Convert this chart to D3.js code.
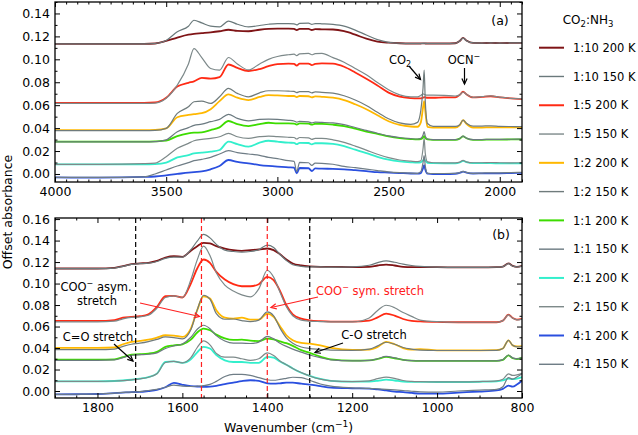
<!DOCTYPE html>
<html><head><meta charset="utf-8">
<script src="https://cdn.jsdelivr.net/npm/d3@7"></script>
<style>
body{margin:0;background:#fff}
svg{display:block}
text{font-family:"DejaVu Sans",sans-serif;fill:#000}
</style>
</head><body>
<svg id="c" width="638" height="435"></svg>
<script>
// ---------------- DATA ----------------
const seriesNames = ["1:10 200 K","1:10 150 K","1:5 200 K","1:5 150 K","1:2 200 K","1:2 150 K",
  "1:1 200 K","1:1 150 K","2:1 200 K","2:1 150 K","4:1 200 K","4:1 150 K"];
const seriesColors = ["#7f1416","#6a797b","#ff2a14","#7d898a","#ffb800","#6f7b7c",
  "#3ddc00","#6b7a80","#33efcc","#7e8a8a","#2a4fdf","#6f7d86"];

// top panel (a)
const topWavenumbers = [4000,3800,3600,3550,3500,3450,3400,3375,3340,3300,3260,3220,3180,3130,3080,3040,3000,2950,2925,2913,
  2900,2860,2845,2830,2800,2750,2700,2650,2600,2550,2500,2450,2400,2370,2355,2345,2340,2335,2325,2300,
  2250,2200,2180,2165,2150,2120,2080,2040,2000,1950,1900];
const topXTicks = [4000,3500,3000,2500,2000];
const topYTicks = [0,0.02,0.04,0.06,0.08,0.10,0.12,0.14];

const topA_1_10_200 = [.1135,.1135,.1135,.1138,.1160,.1190,.1215,.1222,.1228,.1235,.1245,.1258,.1248,.1245,.1258,.1265,.1268,.1268,.1266,.1255,
  .1266,.1265,.1256,.1263,.1262,.1260,.1245,.1215,.1180,.1155,.1145,.1140,.1138,.1138,.1138,.1139,.1139,.1138,.1138,.1138,
  .1138,.1140,.1160,.1187,.1165,.1143,.1142,.1143,.1142,.1143,.1144];
const topA_1_10_150 = [.1135,.1135,.1135,.1138,.1165,.1240,.1289,.1341,.1318,.1289,.1283,.1333,.1306,.1283,.1295,.1306,.1312,.1312,.1310,.1300,
  .1313,.1315,.1305,.1312,.1310,.1305,.1290,.1255,.1212,.1172,.1148,.1140,.1138,.1138,.1138,.1139,.1140,.1139,.1138,.1138,
  .1138,.1140,.1160,.1185,.1163,.1143,.1142,.1143,.1142,.1143,.1144];
const topA_1_5_200 = [.0621,.0621,.0621,.0624,.0665,.0762,.0795,.0808,.0838,.0832,.0845,.0955,.0925,.0898,.0915,.0940,.0958,.0962,.0960,.0945,
  .0962,.0963,.0950,.0960,.0965,.0962,.0935,.0885,.0830,.0772,.0710,.0675,.0662,.0659,.0660,.0666,.0670,.0668,.0665,.0665,
  .0668,.0668,.0690,.0717,.0695,.0668,.0672,.0678,.0668,.0660,.0653];
const topA_1_5_150 = [.0615,.0615,.0615,.0618,.0660,.0775,.0960,.1094,.1015,.0920,.0905,.1016,.0960,.0908,.0960,.1000,.1025,.1040,.1045,.1032,
  .1048,.1052,.1040,.1050,.1052,.1015,.0975,.0920,.0865,.0798,.0735,.0690,.0672,.0672,.0685,.0698,.0695,.0690,.0688,.0688,
  .0686,.0680,.0690,.0715,.0695,.0668,.0675,.0682,.0670,.0660,.0655];
const topA_1_2_200 = [.0383,.0383,.0383,.0385,.0398,.0495,.0515,.0522,.0530,.0565,.0635,.0694,.0665,.0645,.0672,.0688,.0685,.0680,.0680,.0670,
  .0680,.0678,.0668,.0676,.0673,.0665,.0645,.0608,.0565,.0512,.0460,.0428,.0414,.0412,.0450,.0580,.0636,.0550,.0410,.0404,
  .0404,.0404,.0425,.0470,.0438,.0405,.0405,.0407,.0406,.0406,.0408];
const topA_1_2_150 = [.0378,.0378,.0378,.0380,.0398,.0528,.0586,.0630,.0636,.0615,.0673,.0746,.0703,.0673,.0708,.0726,.0726,.0722,.0720,.0710,
  .0718,.0718,.0708,.0716,.0712,.0705,.0682,.0645,.0598,.0538,.0482,.0445,.0432,.0450,.0555,.0750,.0906,.0640,.0440,.0415,
  .0415,.0415,.0430,.0470,.0442,.0417,.0418,.0420,.0416,.0414,.0413];
const topA_1_1_200 = [.0282,.0282,.0282,.0284,.0290,.0331,.0354,.0360,.0363,.0383,.0406,.0462,.0435,.0418,.0435,.0447,.0441,.0441,.0440,.0430,
  .0441,.0440,.0430,.0438,.0437,.0430,.0418,.0395,.0370,.0350,.0328,.0313,.0305,.0302,.0305,.0318,.0330,.0315,.0302,.0298,
  .0298,.0298,.0308,.0328,.0312,.0298,.0298,.0300,.0300,.0301,.0302];
const topA_1_1_150 = [.0280,.0280,.0280,.0282,.0298,.0369,.0404,.0424,.0435,.0456,.0476,.0520,.0485,.0464,.0476,.0479,.0476,.0468,.0462,.0452,
  .0458,.0455,.0445,.0452,.0450,.0445,.0430,.0405,.0380,.0355,.0333,.0318,.0308,.0305,.0310,.0340,.0370,.0330,.0305,.0300,
  .0299,.0299,.0310,.0330,.0313,.0300,.0300,.0302,.0302,.0303,.0305];
const topA_2_1_200 = [.0084,.0084,.0084,.0086,.0099,.0145,.0165,.0180,.0186,.0195,.0209,.0282,.0261,.0238,.0273,.0290,.0282,.0273,.0272,.0260,
  .0272,.0270,.0258,.0268,.0268,.0262,.0242,.0212,.0182,.0150,.0125,.0110,.0102,.0099,.0102,.0118,.0128,.0115,.0098,.0094,
  .0093,.0093,.0100,.0115,.0103,.0094,.0094,.0094,.0093,.0093,.0093];
const topA_2_1_150 = [.0084,.0084,.0090,.0095,.0151,.0224,.0267,.0290,.0302,.0311,.0325,.0354,.0325,.0311,.0325,.0331,.0325,.0320,.0318,.0305,
  .0318,.0315,.0302,.0310,.0310,.0298,.0275,.0243,.0208,.0172,.0142,.0122,.0112,.0108,.0115,.0220,.0310,.0180,.0105,.0098,
  .0097,.0097,.0103,.0118,.0106,.0098,.0098,.0100,.0098,.0097,.0098];
const topA_4_1_200 = [-.0030,-.0032,-.0026,-.0022,-.0012,.0000,.0012,.0017,.0023,.0041,.0070,.0122,.0105,.0093,.0078,.0070,.0064,.0058,.0055,.0006,
  .0052,.0050,.0026,.0048,.0046,.0045,.0041,.0033,.0025,.0016,.0012,.0008,.0004,.0003,.0008,.0050,.0078,.0040,.0003,.0000,
  .0000,.0002,.0010,.0020,.0012,.0004,.0005,.0006,.0006,.0008,.0010];
const topA_4_1_150 = [-.0030,-.0030,-.0025,.0000,.0035,.0070,.0099,.0116,.0128,.0145,.0174,.0203,.0186,.0174,.0163,.0145,.0134,.0116,.0110,.0020,
  .0102,.0098,.0075,.0095,.0093,.0085,.0066,.0055,.0043,.0030,.0018,.0011,.0007,.0006,.0020,.0100,.0160,.0070,.0006,.0004,
  .0004,.0005,.0012,.0022,.0014,.0006,.0008,.0010,.0010,.0012,.0015];

// bottom panel (b)
const bottomWavenumbers = [1900,1850,1800,1760,1740,1720,1700,1680,1660,1640,1620,1600,1580,1565,1550,1535,1520,1500,1480,1460,
  1440,1420,1400,1385,1370,1355,1340,1320,1300,1275,1250,1200,1160,1140,1120,1100,1080,1060,1040,1000,
  950,900,860,845,832,822,812,800];
const bottomXTicks = [1800,1600,1400,1200,1000,800];
const bottomYTicks = [0,0.02,0.04,0.06,0.08,0.10,0.12,0.14,0.16];
const bandBlack = [1710,1300];
const bandRed = [1555,1400];

const botB_1_10_200 = [.1140,.1140,.1140,.1146,.1162,.1180,.1187,.1193,.1211,.1242,.1255,.1249,.1305,.1348,.1379,.1373,.1348,.1326,.1311,.1305,
  .1311,.1317,.1326,.1311,.1273,.1224,.1187,.1168,.1159,.1155,.1155,.1153,.1155,.1168,.1177,.1168,.1155,.1152,.1152,.1152,
  .1150,.1150,.1152,.1158,.1187,.1165,.1155,.1165];
const botB_1_10_150 = [.1138,.1138,.1138,.1144,.1160,.1178,.1185,.1190,.1205,.1235,.1245,.1245,.1315,.1395,.1457,.1425,.1365,.1311,.1298,.1292,
  .1298,.1315,.1357,.1335,.1270,.1215,.1175,.1160,.1155,.1155,.1152,.1155,.1170,.1195,.1211,.1198,.1180,.1168,.1160,.1152,
  .1150,.1150,.1152,.1158,.1185,.1163,.1155,.1163];
const botB_1_5_200 = [.0652,.0652,.0652,.0660,.0683,.0690,.0696,.0714,.0783,.0882,.0885,.0870,.1000,.1140,.1224,.1193,.1109,.1037,.0994,.0975,
  .0975,.0994,.1062,.1031,.0932,.0798,.0714,.0674,.0658,.0650,.0646,.0646,.0655,.0685,.0720,.0702,.0670,.0652,.0648,.0643,
  .0640,.0640,.0640,.0655,.0711,.0680,.0665,.0672];
const botB_1_5_150 = [.0643,.0643,.0643,.0650,.0672,.0685,.0690,.0705,.0770,.0870,.0885,.0870,.1035,.1220,.1348,.1260,.1100,.0985,.0930,.0895,
  .0876,.0950,.1124,.1060,.0920,.0785,.0700,.0660,.0650,.0646,.0643,.0643,.0680,.0750,.0798,.0775,.0730,.0695,.0660,.0645,
  .0640,.0640,.0640,.0655,.0708,.0678,.0662,.0670];
const botB_1_2_200 = [.0401,.0401,.0401,.0405,.0435,.0457,.0466,.0478,.0497,.0519,.0516,.0503,.0581,.0752,.0882,.0860,.0752,.0683,.0674,.0683,
  .0665,.0665,.0721,.0690,.0603,.0519,.0472,.0447,.0441,.0425,.0402,.0382,.0385,.0410,.0457,.0435,.0400,.0385,.0390,.0379,
  .0379,.0379,.0380,.0395,.0472,.0425,.0415,.0418];
const botB_1_2_150 = [.0385,.0385,.0385,.0390,.0415,.0435,.0445,.0460,.0480,.0503,.0497,.0485,.0570,.0755,.0891,.0855,.0720,.0668,.0670,.0655,
  .0645,.0660,.0736,.0700,.0585,.0495,.0445,.0410,.0395,.0388,.0380,.0379,.0390,.0420,.0454,.0435,.0405,.0390,.0380,.0377,
  .0377,.0377,.0378,.0395,.0472,.0425,.0410,.0413];
const botB_1_1_200 = [.0292,.0292,.0292,.0295,.0315,.0339,.0342,.0348,.0365,.0410,.0425,.0435,.0478,.0545,.0581,.0565,.0525,.0490,.0475,.0478,
  .0468,.0465,.0488,.0480,.0462,.0445,.0420,.0380,.0355,.0320,.0295,.0283,.0285,.0298,.0317,.0305,.0290,.0282,.0280,.0280,
  .0280,.0280,.0280,.0290,.0332,.0305,.0298,.0310];
const botB_1_1_150 = [.0286,.0286,.0286,.0290,.0310,.0333,.0338,.0342,.0355,.0395,.0420,.0438,.0500,.0575,.0612,.0580,.0515,.0465,.0445,.0445,
  .0442,.0455,.0509,.0485,.0445,.0415,.0390,.0362,.0335,.0310,.0290,.0280,.0285,.0300,.0322,.0308,.0290,.0282,.0280,.0280,
  .0280,.0280,.0281,.0292,.0335,.0308,.0300,.0312];
const botB_2_1_200 = [.0090,.0090,.0090,.0093,.0098,.0105,.0115,.0130,.0162,.0270,.0275,.0261,.0295,.0360,.0410,.0395,.0335,.0285,.0270,.0270,
  .0262,.0262,.0317,.0310,.0275,.0245,.0210,.0170,.0140,.0112,.0095,.0087,.0088,.0095,.0106,.0098,.0088,.0085,.0085,.0084,
  .0084,.0086,.0090,.0098,.0115,.0110,.0115,.0130];
const botB_2_1_150 = [.0090,.0090,.0090,.0093,.0097,.0104,.0113,.0128,.0160,.0265,.0275,.0262,.0310,.0405,.0466,.0430,.0350,.0315,.0315,.0300,
  .0285,.0300,.0354,.0330,.0280,.0245,.0210,.0172,.0140,.0110,.0095,.0088,.0095,.0115,.0130,.0118,.0098,.0090,.0087,.0085,
  .0085,.0088,.0095,.0110,.0160,.0145,.0150,.0165];
const botB_4_1_200 = [-.0031,-.0030,-.0028,-.0020,-.0015,-.0010,-.0008,.0000,.0010,.0035,.0075,.0058,.0045,.0042,.0038,.0040,.0048,.0065,.0078,.0092,
  .0100,.0095,.0072,.0068,.0072,.0078,.0078,.0068,.0060,.0045,.0032,.0025,.0022,.0015,.0005,-.0005,-.0010,-.0018,-.0025,-.0025,
  -.0015,-.0005,.0005,.0020,.0050,.0040,.0060,.0095];
const botB_4_1_150 = [-.0031,-.0030,-.0028,-.0020,-.0012,-.0010,-.0005,.0005,.0015,.0035,.0055,.0045,.0042,.0045,.0050,.0062,.0090,.0135,.0155,.0155,
  .0145,.0125,.0105,.0100,.0108,.0118,.0128,.0125,.0100,.0065,.0045,.0030,.0025,.0020,.0015,.0010,.0005,-.0002,-.0008,-.0010,
  .0000,.0008,.0015,.0040,.0125,.0110,.0130,.0160];

const topSeries = [topA_1_10_200,topA_1_10_150,topA_1_5_200,topA_1_5_150,topA_1_2_200,topA_1_2_150,
  topA_1_1_200,topA_1_1_150,topA_2_1_200,topA_2_1_150,topA_4_1_200,topA_4_1_150];
const bottomSeries = [botB_1_10_200,botB_1_10_150,botB_1_5_200,botB_1_5_150,botB_1_2_200,botB_1_2_150,
  botB_1_1_200,botB_1_1_150,botB_2_1_200,botB_2_1_150,botB_4_1_200,botB_4_1_150];

// ---------------- DRAW ----------------
const svg = d3.select("#c");
const L = 55, R = 522;
const topBox = {t:2, b:182}, botBox = {t:218, b:398};
const xTop = d3.scaleLinear().domain([4000,1900]).range([L,R]);
const yTop = d3.scaleLinear().domain([-0.007,0.15]).range([topBox.b, topBox.t]);
const xBot = d3.scaleLinear().domain([1900,800]).range([L,R]);
const yBot = d3.scaleLinear().domain([-0.0065,0.161]).range([botBox.b, botBox.t]);

const defs = svg.append("defs");
function clip(id, box){
  defs.append("clipPath").attr("id",id).append("rect")
    .attr("x",L).attr("y",box.t).attr("width",R-L).attr("height",box.b-box.t);
}
clip("clipTop", topBox); clip("clipBot", botBox);

function drawSeries(wn, series, x, y, clipId){
  const g = svg.append("g").attr("clip-path",`url(#${clipId})`);
  series.forEach((vals,i)=>{
    const line = d3.line().x((d,j)=>x(wn[j])).y(d=>y(d)).curve(d3.curveMonotoneX);
    g.append("path").datum(vals).attr("d",line)
      .attr("fill","none").attr("stroke",seriesColors[i])
      .attr("stroke-width", i%2===0 ? 1.8 : 1.2)
      .attr("stroke-linejoin","round");
  });
  return g;
}

function drawAxes(x, y, box, xTicks, yTicks, yMax){
  const xd = x.domain();
  const xMinor = d3.range(Math.min(...xd), Math.max(...xd)+1, 50).filter(v=>!xTicks.includes(v));
  const yMinor = d3.range(0, yMax+0.0001, 0.01).map(v=>+v.toFixed(2)).filter(v=>!yTicks.some(t=>Math.abs(t-v)<1e-6));
  const fmtX = d3.format("d"), fmtY = d3.format(".2f");
  const ax = [];
  ax.push(svg.append("g").attr("transform",`translate(0,${box.b})`)
    .call(d3.axisBottom(x).tickValues(xTicks).tickSize(-5).tickPadding(5).tickFormat(fmtX)));
  ax.push(svg.append("g").attr("transform",`translate(0,${box.b})`)
    .call(d3.axisBottom(x).tickValues(xMinor).tickSize(-2.5).tickFormat("")));
  ax.push(svg.append("g").attr("transform",`translate(0,${box.t})`)
    .call(d3.axisTop(x).tickValues(xTicks).tickSize(-5).tickFormat("")));
  ax.push(svg.append("g").attr("transform",`translate(0,${box.t})`)
    .call(d3.axisTop(x).tickValues(xMinor).tickSize(-2.5).tickFormat("")));
  ax.push(svg.append("g").attr("transform",`translate(${L},0)`)
    .call(d3.axisLeft(y).tickValues(yTicks).tickSize(-5).tickPadding(5).tickFormat(fmtY)));
  ax.push(svg.append("g").attr("transform",`translate(${L},0)`)
    .call(d3.axisLeft(y).tickValues(yMinor).tickSize(-2.5).tickFormat("")));
  ax.push(svg.append("g").attr("transform",`translate(${R},0)`)
    .call(d3.axisRight(y).tickValues(yTicks).tickSize(-5).tickFormat("")));
  ax.push(svg.append("g").attr("transform",`translate(${R},0)`)
    .call(d3.axisRight(y).tickValues(yMinor).tickSize(-2.5).tickFormat("")));
  ax.forEach(g=>{
    g.select(".domain").remove();
    g.attr("font-family",null).attr("font-size",null);
    g.selectAll("line").attr("stroke","#000").attr("stroke-width",1);
    g.selectAll("text").style("font-size","12.5px").attr("fill","#000");
  });
  svg.append("rect").attr("x",L).attr("y",box.t).attr("width",R-L).attr("height",box.b-box.t)
    .attr("fill","none").attr("stroke","#000").attr("stroke-width",1.3);
}

function arrow(x1,y1,x2,y2,color,head=6){
  const g = svg.append("g").attr("stroke",color).attr("stroke-width",1.2).attr("fill","none");
  g.append("line").attr("x1",x1).attr("y1",y1).attr("x2",x2).attr("y2",y2);
  const a = Math.atan2(y2-y1,x2-x1);
  const s = 0.45;
  g.append("path").attr("d",
    `M${x2-head*Math.cos(a-s)},${y2-head*Math.sin(a-s)} L${x2},${y2} L${x2-head*Math.cos(a+s)},${y2-head*Math.sin(a+s)}`);
}

// panel (a)
drawSeries(topWavenumbers, topSeries, xTop, yTop, "clipTop");
drawAxes(xTop, yTop, topBox, topXTicks, topYTicks, 0.15);

// panel (b)
const gb = drawSeries(bottomWavenumbers, bottomSeries, xBot, yBot, "clipBot");
bandBlack.forEach(w=>gb.append("line").attr("x1",xBot(w)).attr("x2",xBot(w)).attr("y1",botBox.t).attr("y2",botBox.b)
  .attr("stroke","#000").attr("stroke-width",1.2).attr("stroke-dasharray","5,3"));
bandRed.forEach(w=>gb.append("line").attr("x1",xBot(w)).attr("x2",xBot(w)).attr("y1",botBox.t).attr("y2",botBox.b)
  .attr("stroke","#ff2020").attr("stroke-width",1.2).attr("stroke-dasharray","5,3"));
drawAxes(xBot, yBot, botBox, bottomXTicks, bottomYTicks, 0.16);

// panel labels
svg.append("text").attr("x",500).attr("y",24.5).attr("text-anchor","middle").style("font-size","12.5px").text("(a)");
svg.append("text").attr("x",501).attr("y",239).attr("text-anchor","middle").style("font-size","12.5px").text("(b)");

// annotations (a)
const co2 = svg.append("text").attr("x",400).attr("y",63.5).attr("text-anchor","middle").style("font-size","11.5px");
co2.append("tspan").text("CO");
co2.append("tspan").attr("dy",3).style("font-size","8px").text("2");
arrow(409,66,420.5,79.5,"#000");
const ocn = svg.append("text").attr("x",464).attr("y",63.5).attr("text-anchor","middle").style("font-size","11.5px");
ocn.append("tspan").text("OCN");
ocn.append("tspan").attr("dy",-5).style("font-size","8px").text("\u2212");
arrow(464.5,68,464.5,84,"#000");

// annotations (b)
const asym = svg.append("text").attr("x",96).attr("y",291).attr("text-anchor","middle").style("font-size","11.5px");
asym.append("tspan").text("COO");
asym.append("tspan").attr("dy",-5).style("font-size","8px").text("\u2212");
asym.append("tspan").attr("dy",5).text(" asym.");
svg.append("text").attr("x",97).attr("y",304.5).attr("text-anchor","middle").style("font-size","11.5px").text("stretch");
arrow(140,303,199.5,316.5,"#ff2020");

svg.append("text").attr("x",98).attr("y",341).attr("text-anchor","middle").style("font-size","11.5px").text("C=O stretch");
arrow(114,344,133,361,"#000");

const sym = svg.append("text").attr("x",370).attr("y",294.5).attr("text-anchor","middle").style("font-size","11.5px");
sym.append("tspan").attr("fill","#ff2020").text("COO");
sym.append("tspan").attr("fill","#ff2020").attr("dy",-5).style("font-size","8px").text("\u2212");
sym.append("tspan").attr("fill","#ff2020").attr("dy",5).text(" sym. stretch");
arrow(318,297,271,307.5,"#ff2020");

svg.append("text").attr("x",374).attr("y",338.5).attr("text-anchor","middle").style("font-size","11.5px").text("C-O stretch");
arrow(343,343,315,352.5,"#000");

// axis titles
const xl = svg.append("text").attr("x",288.5).attr("y",432).attr("text-anchor","middle").style("font-size","12.5px");
xl.append("tspan").text("Wavenumber (cm");
xl.append("tspan").attr("dy",-5).style("font-size","9px").text("\u22121");
xl.append("tspan").attr("dy",5).text(")");
svg.append("text").attr("transform","translate(8,212) rotate(-90)").attr("text-anchor","middle")
  .attr("dy","0.35em").style("font-size","12.5px").text("Offset absorbance");

// legend
const lt = svg.append("text").attr("x",588).attr("y",23.5).attr("text-anchor","middle").style("font-size","12px");
lt.append("tspan").text("CO");
lt.append("tspan").attr("dy",3).style("font-size","8.5px").text("2");
lt.append("tspan").attr("dy",-3).text(":NH");
lt.append("tspan").attr("dy",3).style("font-size","8.5px").text("3");
const lg = svg.append("g");
seriesNames.forEach((n,i)=>{
  const yy = 47.7 + i*28.78;
  lg.append("line").attr("x1",539).attr("x2",564).attr("y1",yy).attr("y2",yy)
    .attr("stroke",seriesColors[i]).attr("stroke-width", i%2===0 ? 2 : 1.4);
  lg.append("text").attr("x",573).attr("y",yy).attr("dy","0.36em").style("font-size","11.5px").text(n);
});
</script>
</body></html>
